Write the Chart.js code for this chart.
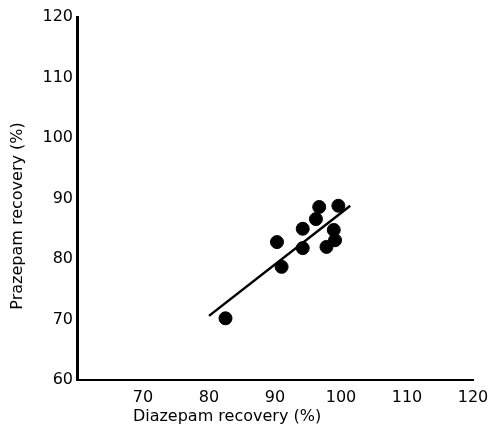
<!DOCTYPE html>
<html>
<head>
<meta charset="utf-8">
<script src="https://cdn.jsdelivr.net/npm/chart.js@4/dist/chart.umd.min.js"></script>
<style>
  html, body { margin: 0; padding: 0; background: #fff; }
  #wrap { width: 491px; height: 425px; }
</style>
</head>
<body>
<div id="wrap"><canvas id="chart" width="491" height="425"></canvas></div>
<script>
// recovery values (%)
const diazepam = [82.5, 90.3, 91.0, 94.2, 94.2, 96.7, 96.2, 99.6, 98.9, 99.1, 97.8];
const prazepam = [70.2, 82.8, 78.7, 85.0, 81.8, 88.6, 86.6, 88.8, 84.8, 83.1, 82.0];
// regression line end points
const fitX = [80.0, 101.4];
const fitY = [70.6, 88.8];
const xTicks = [60, 70, 80, 90, 100, 110, 120];
const yTicks = [60, 70, 80, 90, 100, 110, 120];

const font = "'DejaVu Sans', sans-serif";

const axisTitles = {
    id: 'axisTitles',
    afterDraw(chart) {
        const { ctx } = chart;
        ctx.save();
        ctx.fillStyle = '#000';
        ctx.font = '16px ' + font;
        ctx.textAlign = 'center';
        ctx.textBaseline = 'middle';
        ctx.fillText('Diazepam recovery (%)', 227, 417);
        ctx.translate(18, 216);
        ctx.rotate(-Math.PI / 2);
        ctx.fillText('Prazepam recovery (%)', 0, 0);
        ctx.restore();
    }
};

new Chart(document.getElementById('chart'), {
    data: {
        datasets: [{
            type: 'scatter',
            data: diazepam.map((x, i) => ({ x, y: prazepam[i] })),
            backgroundColor: '#000',
            borderColor: '#000',
            pointRadius: 6.5,
            pointHoverRadius: 6.5
        }, {
            type: 'line',
            data: fitX.map((x, i) => ({ x, y: fitY[i] })),
            borderColor: '#000',
            borderWidth: 2.5,
            pointRadius: 0,
            fill: false
        }]
    },
    options: {
        responsive: false,
        animation: false,
        layout: { padding: { top: 17, right: 18, left: 0, bottom: 0 } },
        plugins: {
            legend: { display: false },
            tooltip: { enabled: false }
        },
        scales: {
            x: {
                type: 'linear',
                min: 60,
                max: 120,
                afterBuildTicks: (axis) => { axis.ticks = xTicks.map(v => ({ value: v })); },
                afterFit: (axis) => {
                    axis.height = 45;
                    axis.paddingLeft = 0;
                    axis.paddingRight = 0;
                },
                grid: { display: false, drawTicks: false },
                border: { color: '#000', width: 2 },
                ticks: {
                    color: '#000',
                    padding: 8,
                    font: { family: font, size: 16 },
                    callback: (v) => v === 60 ? '' : v
                }
            },
            y: {
                type: 'linear',
                min: 60,
                max: 120,
                afterBuildTicks: (axis) => { axis.ticks = yTicks.map(v => ({ value: v })); },
                afterFit: (axis) => {
                    axis.width = 77;
                    axis.paddingTop = 0;
                    axis.paddingBottom = 0;
                },
                grid: { display: false, drawTicks: false },
                border: { color: '#000', width: 3 },
                ticks: {
                    color: '#000',
                    padding: 4,
                    font: { family: font, size: 16 }
                }
            }
        }
    },
    plugins: [axisTitles]
});
</script>
</body>
</html>
